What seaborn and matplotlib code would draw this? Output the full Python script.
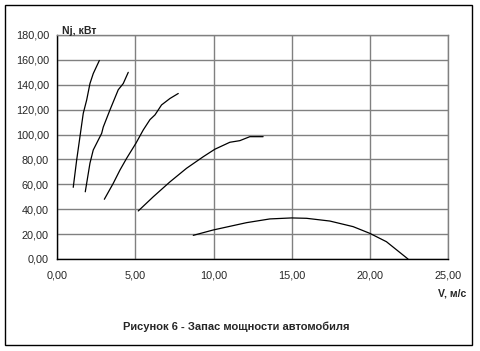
import numpy as np
import pandas as pd
import seaborn as sns
import matplotlib.pyplot as plt
from matplotlib.ticker import FuncFormatter, MultipleLocator
from matplotlib.patches import Rectangle

# Power reserve per gear: speed V (m/s) vs Nj (kW)
v1 = [1.02, 1.24, 1.45, 1.66, 1.88, 2.09, 2.30, 2.69]
n1 = [57.6, 79.6, 98.3, 117.0, 127.8, 141.0, 149.0, 159.5]

v2 = [1.79, 2.09, 2.30, 2.84, 2.94, 3.37, 3.90, 4.22, 4.54]
n2 = [54.0, 77.0, 87.6, 101.0, 106.0, 119.8, 136.0, 141.0, 150.0]

v3 = [3.01, 3.58, 4.01, 4.44, 5.03, 5.50, 5.93, 6.25, 6.67, 7.21, 7.74]
n3 = [48.0, 60.8, 71.5, 81.0, 93.0, 103.7, 112.0, 115.8, 123.8, 129.0, 133.0]

v4 = [5.18, 6.14, 7.21, 8.27, 9.34, 10.08, 11.04, 11.68, 12.32, 13.17]
n4 = [38.6, 50.0, 62.0, 72.9, 82.2, 88.2, 93.8, 95.1, 98.3, 98.3]

v5 = [8.70, 9.97, 12.11, 13.60, 14.99, 15.95, 17.44, 18.93, 20.00, 21.06, 22.44]
n5 = [19.0, 23.3, 29.2, 32.2, 33.0, 32.7, 30.5, 26.0, 20.6, 13.9, 0.0]

curves = [(v1, n1), (v2, n2), (v3, n3), (v4, n4), (v5, n5)]

sns.set_style("white")
plt.rcParams['font.family'] = ['Liberation Sans', 'DejaVu Sans']

fig = plt.figure(figsize=(4.81, 3.51), dpi=100)
ax = fig.add_axes([57.3 / 481, 1 - 259 / 351, (448 - 57.3) / 481, (259 - 35) / 351])

for v, n in curves:
    sns.lineplot(x=v, y=n, ax=ax, color="black", linewidth=0.9, sort=False, estimator=None)

ax.set_xlim(0, 25)
ax.set_ylim(0, 180)
ax.xaxis.set_major_locator(MultipleLocator(5))
ax.yaxis.set_major_locator(MultipleLocator(20))
fmt = FuncFormatter(lambda val, pos: f"{val:.2f}".replace(".", ","))
ax.xaxis.set_major_formatter(fmt)
ax.yaxis.set_major_formatter(fmt)
ax.grid(True, color="#808080", linewidth=1)
ax.set_axisbelow(True)
for side in ["top", "right"]:
    ax.spines[side].set_color("#808080")
    ax.spines[side].set_linewidth(1)
for side in ["left", "bottom"]:
    ax.spines[side].set_color("black")
    ax.spines[side].set_linewidth(1)
ax.tick_params(axis="both", direction="out", length=3, width=1, color="black",
               labelsize=7.8, pad=3)
ax.tick_params(axis="x", pad=5)
ax.set_xlabel("")
ax.set_ylabel("")

fig.text(62 / 481, 1 - 31 / 351, "Nj, кВт", fontsize=7.6, fontweight="bold", va="center", ha="left")
fig.text(466 / 481, 1 - 294 / 351, "V, м/с", fontsize=7.6, fontweight="bold", va="center", ha="right")
fig.text(236 / 481, 1 - 327 / 351, "Рисунок 6 - Запас мощности автомобиля",
         fontsize=8, fontweight="bold", va="center", ha="center")

fig.add_artist(Rectangle((5 / 481, 1 - 345 / 351), 467 / 481, 340 / 351,
                         transform=fig.transFigure, fill=False, edgecolor="black", linewidth=1))

fig.savefig("out.png", dpi=100)
